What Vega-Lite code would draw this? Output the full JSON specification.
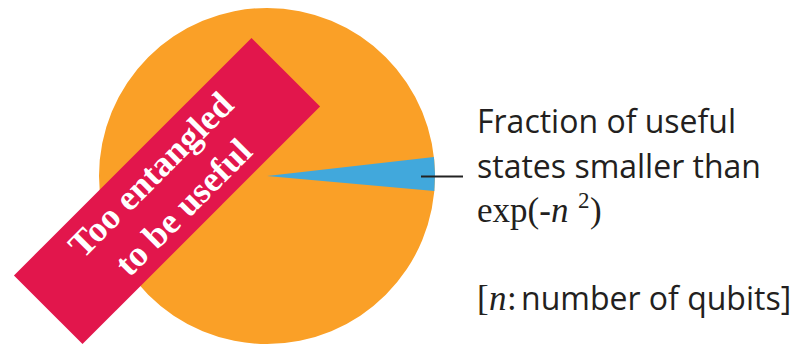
{
  "$schema": "https://vega.github.io/schema/vega-lite/v6.json",
  "width": 810,
  "height": 345,
  "padding": 0,
  "autosize": {"type": "fit", "contains": "padding"},
  "background": "#ffffff",
  "config": {"view": {"stroke": null}},
  "datasets": {
    "pie": [
      {"segment": "Too entangled to be useful", "cx": 267, "cy": 176, "start": 0, "end": 360},
      {"segment": "Useful states", "cx": 267, "cy": 176, "start": 83.5, "end": 95.1}
    ],
    "banner": [
      {"cx": 167, "cy": 191, "label": "Too entangled\nto be useful"}
    ],
    "connector": [
      {"x": 421, "x2": 463, "y": 176.5}
    ],
    "notes": [
      {"part": "sans", "x": 477, "y": 133, "text": "Fraction of useful"},
      {"part": "sans", "x": 477, "y": 178, "text": "states smaller than"},
      {"part": "sans", "x": 521, "y": 310, "text": "number of qubits]"},
      {"part": "serif", "x": 477, "y": 222, "text": "exp(-"},
      {"part": "serif", "x": 590, "y": 222, "text": ")"},
      {"part": "serif", "x": 477, "y": 310, "text": "["},
      {"part": "serif", "x": 507, "y": 310, "text": ":"},
      {"part": "italic", "x": 551, "y": 222, "text": "n"},
      {"part": "italic", "x": 489, "y": 310, "text": "n"},
      {"part": "sup", "x": 578, "y": 208, "text": "2"}
    ]
  },
  "layer": [
    {
      "data": {"name": "pie"},
      "mark": {"type": "arc", "radius": 168, "strokeWidth": 0},
      "encoding": {
        "x": {"field": "cx", "type": "quantitative", "scale": {"domain": [0, 810]}, "axis": null},
        "y": {"field": "cy", "type": "quantitative", "scale": {"domain": [0, 345], "reverse": true}, "axis": null},
        "theta": {"field": "start", "type": "quantitative", "stack": null, "scale": {"domain": [0, 360], "range": [0, 6.283185307]}},
        "theta2": {"field": "end"},
        "color": {"field": "segment", "type": "nominal", "legend": null,
          "scale": {"domain": ["Too entangled to be useful", "Useful states"], "range": ["#FAA027", "#41A8DC"]}}
      }
    },
    {
      "data": {"name": "banner"},
      "mark": {"type": "point", "shape": "M-1,-0.2887L1,-0.2887L1,0.2887L-1,0.2887Z", "size": 112896, "angle": -45, "filled": true, "color": "#E2164C", "opacity": 1, "strokeWidth": 0},
      "encoding": {
        "x": {"field": "cx", "type": "quantitative", "scale": {"domain": [0, 810]}, "axis": null},
        "y": {"field": "cy", "type": "quantitative", "scale": {"domain": [0, 345], "reverse": true}, "axis": null}
      }
    },
    {
      "data": {"name": "banner"},
      "mark": {"type": "text", "angle": -45, "font": "Liberation Serif", "fontWeight": "bold", "fontSize": 36, "lineHeight": 46, "lineBreak": "\n", "dy": -22, "color": "#ffffff", "align": "center", "baseline": "middle"},
      "encoding": {
        "x": {"field": "cx", "type": "quantitative", "scale": {"domain": [0, 810]}, "axis": null},
        "y": {"field": "cy", "type": "quantitative", "scale": {"domain": [0, 345], "reverse": true}, "axis": null},
        "text": {"field": "label"}
      }
    },
    {
      "data": {"name": "connector"},
      "mark": {"type": "rule", "color": "#222222", "strokeWidth": 2},
      "encoding": {
        "x": {"field": "x", "type": "quantitative", "scale": {"domain": [0, 810]}, "axis": null},
        "x2": {"field": "x2"},
        "y": {"field": "y", "type": "quantitative", "scale": {"domain": [0, 345], "reverse": true}, "axis": null}
      }
    },
    {
      "data": {"name": "notes"},
      "transform": [{"filter": "datum.part === 'sans'"}],
      "mark": {"type": "text", "font": "Open Sans", "fontSize": 32, "color": "#231f20", "align": "left", "baseline": "alphabetic"},
      "encoding": {
        "x": {"field": "x", "type": "quantitative", "scale": {"domain": [0, 810]}, "axis": null},
        "y": {"field": "y", "type": "quantitative", "scale": {"domain": [0, 345], "reverse": true}, "axis": null},
        "text": {"field": "text"}
      }
    },
    {
      "data": {"name": "notes"},
      "transform": [{"filter": "datum.part === 'serif'"}],
      "mark": {"type": "text", "font": "Liberation Serif", "fontSize": 35, "color": "#231f20", "align": "left", "baseline": "alphabetic"},
      "encoding": {
        "x": {"field": "x", "type": "quantitative", "scale": {"domain": [0, 810]}, "axis": null},
        "y": {"field": "y", "type": "quantitative", "scale": {"domain": [0, 345], "reverse": true}, "axis": null},
        "text": {"field": "text"}
      }
    },
    {
      "data": {"name": "notes"},
      "transform": [{"filter": "datum.part === 'italic'"}],
      "mark": {"type": "text", "font": "Liberation Serif", "fontStyle": "italic", "fontSize": 35, "color": "#231f20", "align": "left", "baseline": "alphabetic"},
      "encoding": {
        "x": {"field": "x", "type": "quantitative", "scale": {"domain": [0, 810]}, "axis": null},
        "y": {"field": "y", "type": "quantitative", "scale": {"domain": [0, 345], "reverse": true}, "axis": null},
        "text": {"field": "text"}
      }
    },
    {
      "data": {"name": "notes"},
      "transform": [{"filter": "datum.part === 'sup'"}],
      "mark": {"type": "text", "font": "Liberation Serif", "fontSize": 23, "color": "#231f20", "align": "left", "baseline": "alphabetic"},
      "encoding": {
        "x": {"field": "x", "type": "quantitative", "scale": {"domain": [0, 810]}, "axis": null},
        "y": {"field": "y", "type": "quantitative", "scale": {"domain": [0, 345], "reverse": true}, "axis": null},
        "text": {"field": "text"}
      }
    }
  ]
}
